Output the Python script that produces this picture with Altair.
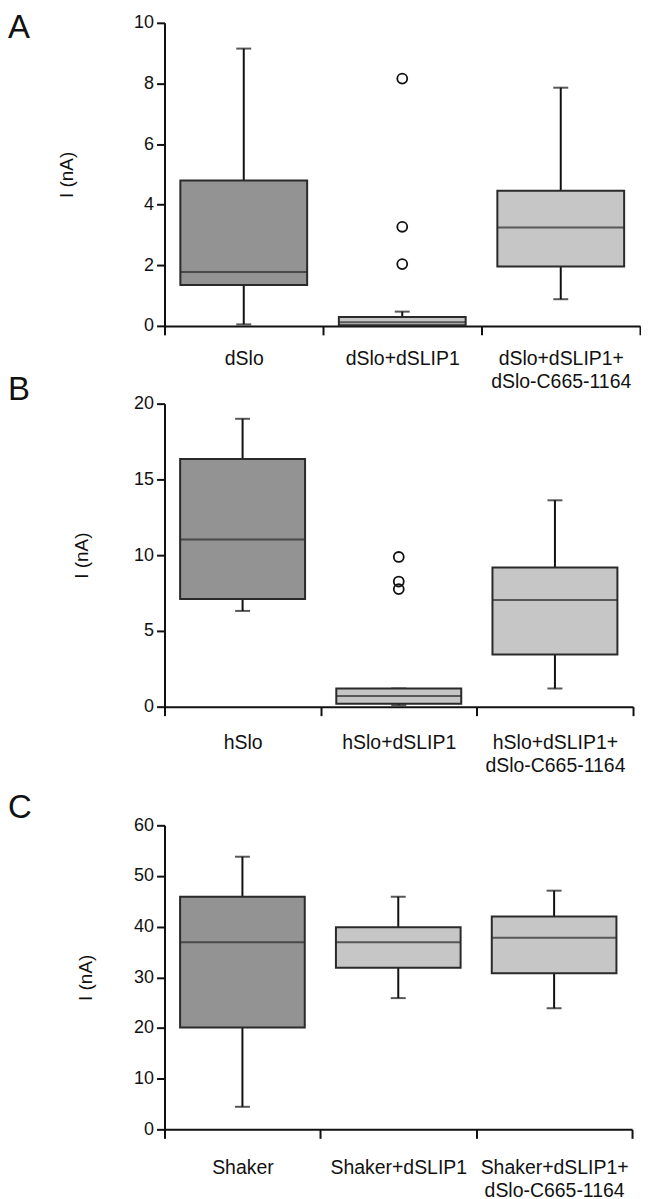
import altair as alt
import pandas as pd

# ---------------- data ----------------
letters = ["A", "B", "C"]

cats_A = ["dSlo", "dSlo+dSLIP1", "dSlo+dSLIP1+\ndSlo-C665-1164"]
low_A = [0.05, 0.02, 0.88]
q1_A = [1.35, 0.02, 1.96]
med_A = [1.78, 0.12, 3.25]
q3_A = [4.80, 0.29, 4.46]
high_A = [9.15, 0.47, 7.86]
out_cat_A = ["dSlo+dSLIP1", "dSlo+dSLIP1", "dSlo+dSLIP1"]
out_val_A = [8.16, 3.27, 2.04]

cats_B = ["hSlo", "hSlo+dSLIP1", "hSlo+dSLIP1+\ndSlo-C665-1164"]
low_B = [6.32, 0.10, 1.20]
q1_B = [7.10, 0.20, 3.45]
med_B = [11.04, 0.70, 7.04]
q3_B = [16.35, 1.20, 9.18]
high_B = [19.00, 1.20, 13.62]
out_cat_B = ["hSlo+dSLIP1", "hSlo+dSLIP1", "hSlo+dSLIP1"]
out_val_B = [9.88, 8.26, 7.76]

cats_C = ["Shaker", "Shaker+dSLIP1", "Shaker+dSLIP1+\ndSlo-C665-1164"]
low_C = [4.45, 25.9, 23.9]
q1_C = [20.1, 31.9, 30.8]
med_C = [36.9, 36.9, 37.8]
q3_C = [45.9, 39.9, 42.0]
high_C = [53.8, 45.9, 47.1]
out_cat_C = []
out_val_C = []

y_max = [10, 20, 60]
y_step = [2, 5, 10]
fills = ["#939393", "#c6c6c6", "#c6c6c6"]

INK = "#111111"
EDGE = "#2a2a2a"


def panel(letter, cats, low, q1, med, q3, high, out_cat, out_val, ymax, ystep,
          width, height, title_pad, label_pad, letter_y):
    df = pd.DataFrame({"cat": cats, "low": low, "q1": q1, "med": med,
                       "q3": q3, "high": high, "fill": fills})
    dfo = pd.DataFrame({"cat": out_cat, "val": out_val})
    band = width / len(cats)

    x = alt.X(
        "cat:N",
        sort=cats,
        scale=alt.Scale(domain=cats, paddingInner=0, paddingOuter=0),
        axis=alt.Axis(
            title=None, labelAngle=0,
            labelExpr="split(datum.label, '\\n')",
            tickBand="extent", tickSize=9, tickWidth=2, tickColor=INK,
            domainWidth=2, domainColor=INK,
            labelPadding=label_pad, labelFontSize=19.5, labelLineHeight=23,
            labelFontWeight="normal",
            labelBaseline="top", labelColor=INK, labelLimit=400,
        ),
    )

    def y(field):
        return alt.Y(
            field,
            scale=alt.Scale(domain=[0, ymax], nice=False, zero=True),
            axis=alt.Axis(
                values=list(range(0, ymax + 1, ystep)), grid=False,
                title="I (nA)", titleFontSize=19, titleFontWeight="normal",
                titleColor=INK, titlePadding=title_pad,
                labelFontSize=18, labelColor=INK, labelPadding=3,
                labelFontWeight="normal",
                tickSize=8, tickWidth=2, tickColor=INK,
                domainWidth=2, domainColor=INK,
            ),
        )

    base = alt.Chart(df)
    whisk_lo = base.mark_rule(color=INK, strokeWidth=2).encode(
        x=x, y=y("low:Q"), y2="q1:Q")
    whisk_hi = base.mark_rule(color=INK, strokeWidth=2).encode(
        x=x, y=y("q3:Q"), y2="high:Q")
    cap_lo = base.mark_tick(color=INK, size=15, thickness=2).encode(
        x=x, y=y("low:Q"))
    cap_hi = base.mark_tick(color=INK, size=15, thickness=2).encode(
        x=x, y=y("high:Q"))
    box = base.mark_bar(width=alt.RelativeBandSize(0.8), stroke=EDGE,
                        strokeWidth=2).encode(
        x=x, y=y("q1:Q"), y2="q3:Q",
        fill=alt.Fill("fill:N", scale=None))
    median = base.mark_tick(color=EDGE, size=band * 0.8, thickness=2).encode(
        x=x, y=y("med:Q"))

    layers = [whisk_lo, whisk_hi, cap_lo, cap_hi, box, median]
    if len(dfo):
        pts = alt.Chart(dfo).mark_point(
            shape="circle", filled=False, size=100, stroke=INK,
            strokeWidth=1.8, opacity=1).encode(x=x, y=y("val:Q"))
        layers.append(pts)

    lab = alt.Chart(pd.DataFrame({"t": [letter]})).mark_text(
        fontSize=33, align="left", baseline="alphabetic", color=INK
    ).encode(text="t:N", x=alt.value(-157), y=alt.value(letter_y))
    layers.append(lab)

    return alt.layer(*layers).properties(width=width, height=height)


def spacer(h):
    return alt.Chart(pd.DataFrame({"a": [0]})).mark_point(opacity=0).encode(
        x=alt.value(0), y=alt.value(0)).properties(width=10, height=h)


pA = panel(letters[0], cats_A, low_A, q1_A, med_A, q3_A, high_A, out_cat_A,
           out_val_A, y_max[0], y_step[0], 477, 304, 57, 15, 15)
pB = panel(letters[1], cats_B, low_B, q1_B, med_B, q3_B, high_B, out_cat_B,
           out_val_B, y_max[1], y_step[1], 470, 304, 42, 18, -4)
pC = panel(letters[2], cats_C, low_C, q1_C, med_C, q3_C, high_C, out_cat_C,
           out_val_C, y_max[2], y_step[2], 469, 305, 38, 20, -7)

chart = alt.vconcat(
    pA, spacer(78), pB, spacer(119), pC, spacing=0, bounds="flush"
).resolve_scale(x="independent", y="independent").properties(
    padding={"top": 2, "left": 0, "right": 0, "bottom": 0}
).configure(
    font="Liberation Sans", view=alt.ViewConfig(stroke=None)
)

chart.save("out.html", embed_options={"renderer": "svg", "actions": False})
